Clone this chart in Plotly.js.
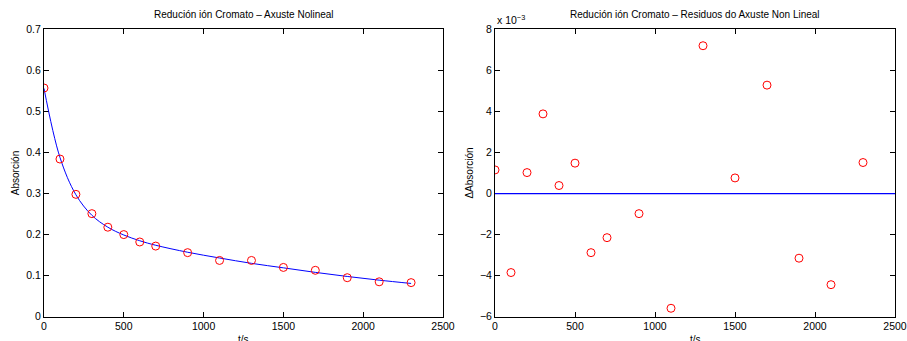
<!DOCTYPE html>
<html>
<head>
<meta charset="utf-8">
<script src="https://cdn.plot.ly/plotly-3.0.1.min.js"></script>
<style>html,body{margin:0;padding:0;background:#fff;}#chart{width:907px;height:341px;}</style>
</head>
<body>
<div id="chart"></div>
<script>
// Data
const tiempos = [0, 100, 200, 300, 400, 500, 600, 700, 900, 1100, 1300, 1500, 1700, 1900, 2100, 2300];
const absorcion = [0.557, 0.384, 0.298, 0.251, 0.218, 0.200, 0.182, 0.172, 0.156, 0.137, 0.137, 0.120, 0.113, 0.095, 0.085, 0.083];
const axuste = [0.556, 0.388, 0.297, 0.247, 0.218, 0.199, 0.185, 0.174, 0.157, 0.143, 0.130, 0.119, 0.108, 0.098, 0.089, 0.081];
const residuosE3 = [1.15, -3.85, 1.02, 3.88, 0.39, 1.48, -2.88, -2.15, -0.98, -5.59, 7.2, 0.76, 5.28, -3.15, -4.44, 1.51];
const ceroX = [0, 2500];
const ceroY = [0, 0];
const titulo1 = "Redución ión Cromato – Axuste Nolineal";
const titulo2 = "Redución ión Cromato – Residuos do Axuste Non Lineal";
const tituloX = "t/s";

const W = 907, H = 341;
const yDom = [1 - 316.7 / H, 1 - 29.3 / H];
const font = {family: "Liberation Sans, Arial, sans-serif", size: 10.5, color: "#000"};
const titleFont = {family: "Liberation Sans, Arial, sans-serif", size: 10, color: "#000"};

const axBase = {
  showgrid: false, zeroline: false, showline: true, linecolor: "#000", linewidth: 1,
  mirror: "ticks", ticks: "inside", ticklen: 5, tickcolor: "#000", tickwidth: 1,
  tickfont: font, layer: "below traces"
};

const traces = [
  {x: tiempos, y: axuste, mode: "lines", line: {color: "#0000ff", width: 1, shape: "spline"}, xaxis: "x", yaxis: "y", hoverinfo: "skip"},
  {x: tiempos, y: absorcion, mode: "markers", marker: {symbol: "circle-open", color: "#ff0000", size: 8, line: {width: 1, color: "#ff0000"}}, xaxis: "x", yaxis: "y"},
  {x: ceroX, y: ceroY, mode: "lines", line: {color: "#0000ff", width: 1.2}, xaxis: "x2", yaxis: "y2"},
  {x: tiempos, y: residuosE3, mode: "markers", marker: {symbol: "circle-open", color: "#ff0000", size: 8, line: {width: 1, color: "#ff0000"}}, xaxis: "x2", yaxis: "y2"}
];

const layout = {
  width: W, height: H,
  margin: {l: 0, r: 0, t: 0, b: 0},
  paper_bgcolor: "#fff", plot_bgcolor: "#fff",
  showlegend: false,
  font: font,
  xaxis: Object.assign({}, axBase, {domain: [44 / W, 443 / W], range: [0, 2500], tickvals: [0, 500, 1000, 1500, 2000, 2500], anchor: "y"}),
  yaxis: Object.assign({}, axBase, {domain: yDom, range: [0, 0.7], tickvals: [0, 0.1, 0.2, 0.3, 0.4, 0.5, 0.6, 0.7], ticktext: ["0", "0.1", "0.2", "0.3", "0.4", "0.5", "0.6", "0.7"], anchor: "x",
    title: {text: "Absorción", font: titleFont, standoff: 4}}),
  xaxis2: Object.assign({}, axBase, {domain: [495 / W, 895 / W], range: [0, 2500], tickvals: [0, 500, 1000, 1500, 2000, 2500], anchor: "y2"}),
  yaxis2: Object.assign({}, axBase, {domain: yDom, range: [-6, 8], tickvals: [-6, -4, -2, 0, 2, 4, 6, 8], anchor: "x2",
    title: {text: "ΔAbsorción", font: titleFont, standoff: 4}}),
  annotations: [
    {text: titulo1, xref: "paper", yref: "paper", x: 243.5 / W, y: 1 - 15 / H, xanchor: "center", yanchor: "middle", showarrow: false, font: titleFont},
    {text: titulo2, xref: "paper", yref: "paper", x: 695 / W, y: 1 - 15 / H, xanchor: "center", yanchor: "middle", showarrow: false, font: titleFont},
    {text: "x 10<sup>−3</sup>", xref: "paper", yref: "paper", x: 495 / W, y: 1 - 20 / H, xanchor: "left", yanchor: "middle", showarrow: false, font: font},
    {text: tituloX, xref: "paper", yref: "paper", x: 243.5 / W, y: 1 - 339 / H, xanchor: "center", yanchor: "middle", showarrow: false, font: titleFont},
    {text: tituloX, xref: "paper", yref: "paper", x: 695 / W, y: 1 - 339 / H, xanchor: "center", yanchor: "middle", showarrow: false, font: titleFont}
  ]
};

Plotly.newPlot("chart", traces, layout, {staticPlot: true, displayModeBar: false});
</script>
</body>
</html>
